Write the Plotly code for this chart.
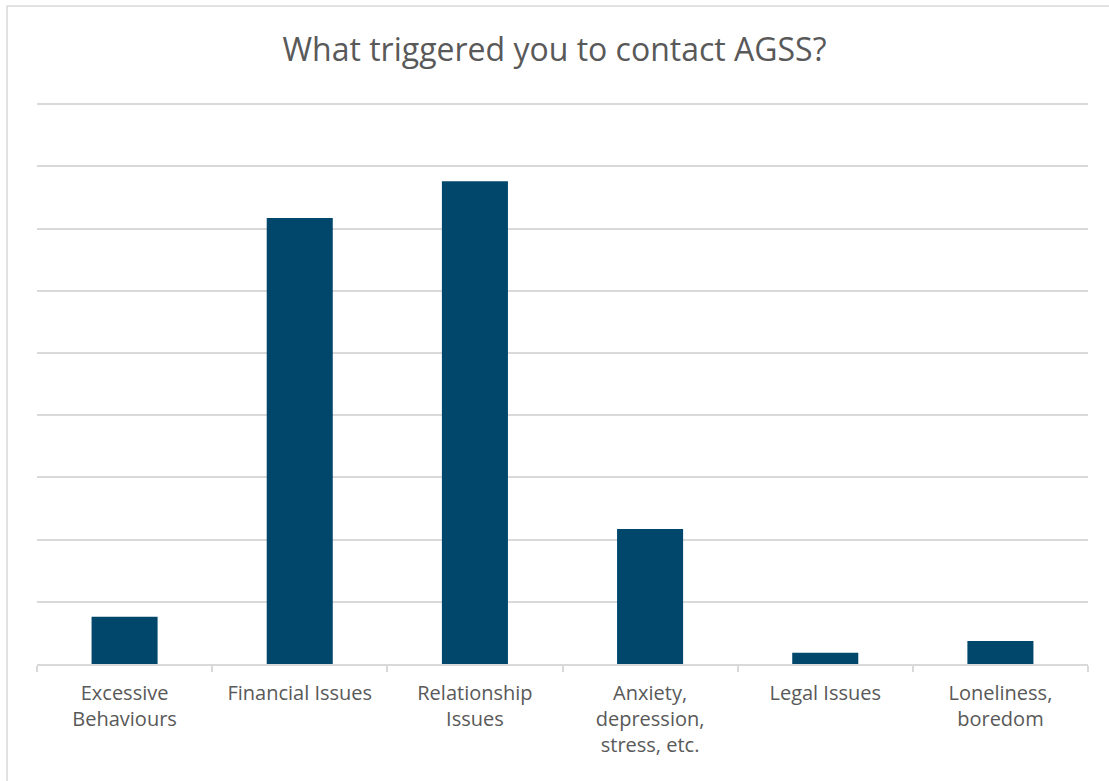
import plotly.graph_objects as go

# Survey responses: what prompted people to get in touch
categories = [
    "Excessive<br>Behaviours",
    "Financial Issues",
    "Relationship<br>Issues",
    "Anxiety,<br>depression,<br>stress, etc.",
    "Legal Issues",
    "Loneliness,<br>boredom",
]
values = [7.6, 71.7, 77.6, 21.7, 1.8, 3.7]

TEXT = "#595959"
GRID = "#D9D9D9"
BAR = "#00476B"
FONT = "Open Sans"

fig = go.Figure(
    go.Bar(
        x=categories,
        y=values,
        marker=dict(color=BAR, line=dict(width=0)),
        hoverinfo="x+y",
    )
)

fig.update_layout(
    width=1109,
    height=781,
    paper_bgcolor="white",
    plot_bgcolor="white",
    margin=dict(l=37, r=21, t=103, b=117),
    bargap=0.623,
    showlegend=False,
    font=dict(family=FONT, color=TEXT),
    title=dict(
        text="What triggered you to contact AGSS?",
        x=0.5,
        xanchor="center",
        y=0.936,
        yanchor="middle",
        font=dict(family=FONT, size=32, color=TEXT),
    ),
    xaxis=dict(
        type="category",
        showgrid=False,
        showline=True,
        linecolor=GRID,
        linewidth=1.5,
        ticks="outside",
        tickson="boundaries",
        ticklen=6,
        tickcolor=GRID,
        tickwidth=1.5,
        ticklabelstandoff=10,
        tickfont=dict(family=FONT, size=20, color=TEXT),
    ),
    yaxis=dict(
        range=[0, 90.2],
        tickvals=[10, 20, 30, 40, 50, 60, 70, 80, 90],
        showgrid=True,
        gridcolor=GRID,
        gridwidth=1.5,
        showticklabels=False,
        zeroline=False,
        showline=False,
    ),
    shapes=[
        dict(
            type="rect",
            xref="paper",
            yref="paper",
            x0=-0.0285,
            x1=1.2,
            y0=-0.3,
            y1=1.173,
            line=dict(color=GRID, width=1.5),
            fillcolor="rgba(0,0,0,0)",
            layer="below",
        )
    ],
)

fig.write_html("out.html")
